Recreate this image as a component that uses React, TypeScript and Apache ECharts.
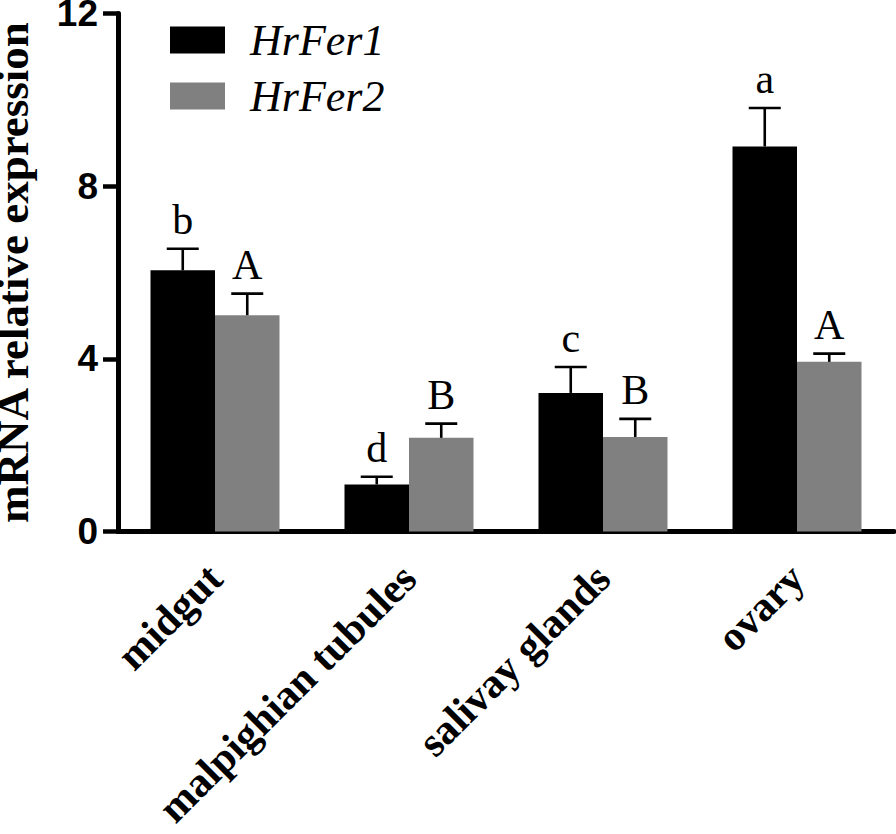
import React, { useEffect, useRef } from "react";
import * as echarts from "echarts";

const categories = ["midgut", "malpighian tubules", "salivay glands", "ovary"];
const seriesNames = ["HrFer1", "HrFer2"];
const fer1Values = [6.05, 1.09, 3.21, 8.92];
const fer1Errors = [0.5, 0.18, 0.6, 0.89];
const fer2Values = [5.01, 2.17, 2.19, 3.93];
const fer2Errors = [0.5, 0.33, 0.42, 0.19];
const fer1Letters = ["b", "d", "c", "a"];
const fer2Letters = ["A", "B", "B", "A"];
const yTicks = [0, 4, 8, 12];

const CAT_GAP = 0.335;

function makeErrorSeries(values: number[], errors: number[], letters: string[], side: number) {
  return {
    type: "custom",
    z: 5,
    silent: true,
    clip: false,
    data: values.map((v, i) => [i, v, errors[i]]),
    renderItem: (params: any, api: any) => {
      const i = api.value(0);
      const mean = api.value(1);
      const err = api.value(2);
      const band = api.size([1, 0])[0];
      const barW = (band * (1 - CAT_GAP)) / 2;
      const c = api.coord([i, mean]);
      const x = c[0] + (side * barW) / 2;
      const yTop = c[1];
      const yCap = api.coord([i, mean + err])[1];
      const capHalf = 16;
      const style = { stroke: "#000", lineWidth: 2.6 };
      return {
        type: "group",
        children: [
          { type: "line", shape: { x1: x, y1: yTop, x2: x, y2: yCap }, style },
          { type: "line", shape: { x1: x - capHalf, y1: yCap, x2: x + capHalf, y2: yCap }, style },
          {
            type: "text",
            x: x,
            y: yCap - 8,
            style: {
              text: letters[params.dataIndex],
              fill: "#000",
              font: "42px 'Liberation Serif'",
              align: "center",
              verticalAlign: "bottom",
            },
          },
        ],
      };
    },
  };
}

export default function App() {
  const ref = useRef<HTMLDivElement>(null);
  useEffect(() => {
    if (!ref.current) return;
    const chart = echarts.init(ref.current, null, { renderer: "svg" });
    chart.setOption({
      animation: false,
      backgroundColor: "#fff",
      grid: { left: 118, right: 2, top: 13.5, bottom: 302.5, outerBoundsMode: "none", containLabel: false },
      legend: {
        data: seriesNames,
        orient: "vertical",
        left: 165,
        top: 13,
        itemWidth: 55,
        itemHeight: 27,
        itemGap: 12,
        icon: "rect",
        selectedMode: false,
        textStyle: {
          fontFamily: "Liberation Serif",
          fontStyle: "italic",
          fontSize: 44,
          color: "#000",
          padding: [0, 0, 0, 20],
        },
      },
      xAxis: {
        type: "category",
        data: categories,
        axisLine: { lineStyle: { color: "#000", width: 5 } },
        axisTick: { alignWithLabel: true, length: 14, lineStyle: { color: "#000", width: 4.5 } },
        axisLabel: {
          rotate: 45,
          margin: 40,
          interval: 0,
          color: "#000",
          fontFamily: "Liberation Serif",
          fontWeight: "bold",
          fontSize: 42,
        },
      },
      yAxis: {
        type: "value",
        min: yTicks[0],
        max: yTicks[yTicks.length - 1],
        interval: 4,
        name: "mRNA relative expression",
        nameLocation: "middle",
        nameRotate: 90,
        nameGap: 85,
        nameTextStyle: {
          fontFamily: "Liberation Serif",
          fontWeight: "bold",
          fontSize: 45,
          lineHeight: 40,
          color: "#000",
        },
        splitLine: { show: false },
        axisLine: { show: true, lineStyle: { color: "#000", width: 5 } },
        axisTick: { show: true, length: 15, lineStyle: { color: "#000", width: 4.5 } },
        axisLabel: {
          margin: 20,
          color: "#000",
          fontFamily: "Liberation Sans",
          fontWeight: "bold",
          fontSize: 37,
          lineHeight: 26,
        },
      },
      series: [
        {
          name: seriesNames[0],
          type: "bar",
          data: fer1Values,
          barGap: "0%",
          barCategoryGap: CAT_GAP * 100 + "%",
          itemStyle: { color: "#000000" },
        },
        {
          name: seriesNames[1],
          type: "bar",
          data: fer2Values,
          barGap: "0%",
          barCategoryGap: CAT_GAP * 100 + "%",
          itemStyle: { color: "#808080" },
        },
        makeErrorSeries(fer1Values, fer1Errors, fer1Letters, -1),
        makeErrorSeries(fer2Values, fer2Errors, fer2Letters, 1),
      ],
    });
    return () => chart.dispose();
  }, []);
  return (
    <div
      ref={ref}
      style={{ position: "fixed", left: 0, top: 0, width: 896, height: 834, background: "#fff" }}
    />
  );
}
